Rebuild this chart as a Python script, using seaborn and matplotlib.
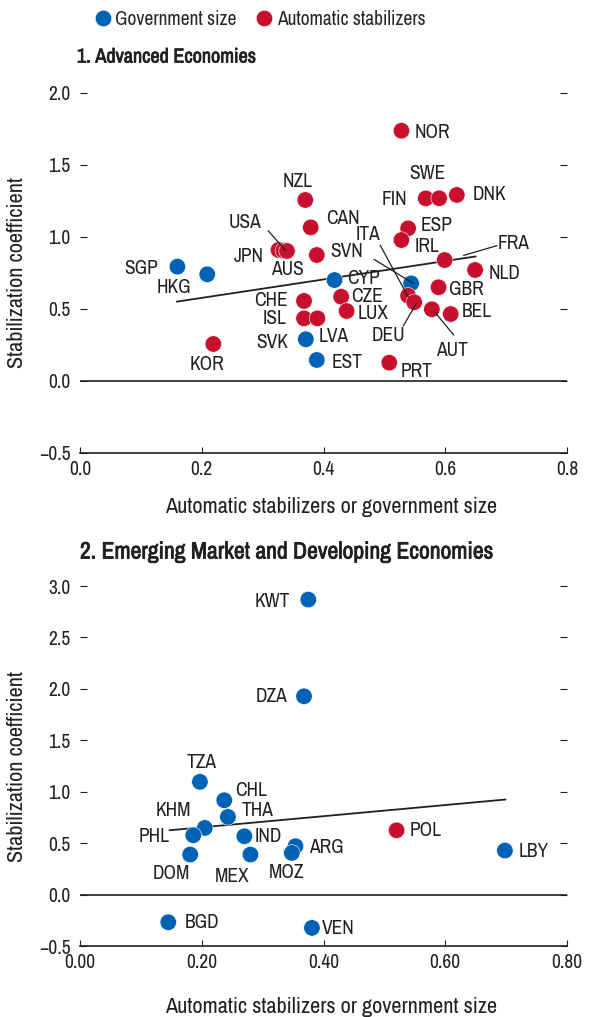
import pandas as pd
import seaborn as sns
import matplotlib.pyplot as plt
import matplotlib.patheffects as pe
from matplotlib import font_manager

#%% data read off the reference
# panel 1: advanced economies
adv_code = ['NOR', 'FIN', 'SWE', 'DNK', 'NZL', 'CAN', 'ESP', 'IRL', 'JPN', 'USA', 'AUS',
            'SVN', 'SGP', 'HKG', 'CYP', 'FRA', 'NLD', 'ITA2', 'GBR', 'ITA', 'DEU', 'CHE',
            'CZE', 'ISL', 'ISL2', 'LUX', 'AUT', 'BEL', 'SVK', 'EST', 'KOR', 'PRT']
adv_x = [0.528, 0.568, 0.590, 0.619, 0.370, 0.379, 0.539, 0.528, 0.326, 0.334, 0.340,
         0.389, 0.160, 0.209, 0.418, 0.599, 0.649, 0.544, 0.589, 0.539, 0.549, 0.368,
         0.429, 0.368, 0.390, 0.438, 0.578, 0.609, 0.371, 0.389, 0.219, 0.508]
adv_y = [1.738, 1.268, 1.269, 1.292, 1.257, 1.067, 1.060, 0.979, 0.910, 0.906, 0.903,
         0.875, 0.794, 0.741, 0.701, 0.840, 0.771, 0.678, 0.651, 0.592, 0.547, 0.556,
         0.585, 0.435, 0.435, 0.486, 0.498, 0.465, 0.290, 0.146, 0.257, 0.127]
adv_grp = ['A', 'A', 'A', 'A', 'A', 'A', 'A', 'A', 'A', 'A', 'A',
           'A', 'G', 'G', 'G', 'A', 'A', 'G', 'A', 'A', 'A', 'A',
           'A', 'A', 'A', 'A', 'A', 'A', 'G', 'G', 'A', 'A']
adv_fit_x = [0.159, 0.650]
adv_fit_y = [0.551, 0.865]

# panel 2: emerging market and developing economies
em_code = ['KWT', 'DZA', 'TZA', 'CHL', 'THA', 'KHM', 'PHL', 'DOM', 'IND', 'MEX',
           'ARG', 'MOZ', 'BGD', 'VEN', 'POL', 'LBY']
em_x = [0.375, 0.368, 0.197, 0.237, 0.243, 0.205, 0.186, 0.181, 0.270, 0.280,
        0.354, 0.348, 0.145, 0.381, 0.520, 0.698]
em_y = [2.868, 1.928, 1.096, 0.917, 0.755, 0.648, 0.577, 0.389, 0.567, 0.389,
        0.470, 0.405, -0.269, -0.324, 0.625, 0.428]
em_grp = ['G', 'G', 'G', 'G', 'G', 'G', 'G', 'G', 'G', 'G',
          'G', 'G', 'G', 'G', 'A', 'G']
em_fit_x = [0.147, 0.699]
em_fit_y = [0.625, 0.924]

grp_names = {'G': 'Government size', 'A': 'Automatic stabilizers'}

#%% label placement (data coords) and leader lines
adv_lab = {'NOR': (0.579, 1.727), 'SWE': (0.570, 1.442), 'FIN': (0.516, 1.262),
           'DNK': (0.673, 1.292), 'NZL': (0.358, 1.384), 'CAN': (0.4325, 1.130),
           'ESP': (0.585, 1.083), 'IRL': (0.5695, 0.9375), 'USA': (0.271, 1.099),
           'JPN': (0.2765, 0.863), 'AUS': (0.341, 0.771), 'SVN': (0.438, 0.898),
           'ITA': (0.4736, 1.014), 'FRA': (0.712, 0.956), 'SGP': (0.100, 0.783),
           'HKG': (0.155, 0.651), 'CYP': (0.465, 0.713), 'NLD': (0.698, 0.748),
           'GBR': (0.635, 0.637), 'CHE': (0.3138, 0.5625), 'CZE': (0.471, 0.590),
           'ISL': (0.319, 0.431), 'LUX': (0.481, 0.472), 'DEU': (0.506, 0.319),
           'BEL': (0.652, 0.481), 'AUT': (0.611, 0.215), 'SVK': (0.316, 0.266),
           'LVA': (0.416, 0.3125), 'EST': (0.438, 0.127), 'KOR': (0.209, 0.118),
           'PRT': (0.553, 0.0646)}
adv_leaders = [((0.309, 1.044), (0.338, 0.905)),
               ((0.493, 0.944), (0.539, 0.585)),
               ((0.483, 0.845), (0.5475, 0.678)),
               ((0.531, 0.382), (0.552, 0.535)),
               ((0.614, 0.319), (0.583, 0.477)),
               ((0.685, 0.940), (0.630, 0.872))]
em_lab = {'TZA': (0.200, 1.280), 'CHL': (0.2804, 1.014), 'THA': (0.291, 0.820),
          'KHM': (0.154, 0.820), 'PHL': (0.1216, 0.561), 'DOM': (0.1506, 0.204),
          'IND': (0.309, 0.561), 'MEX': (0.249, 0.178), 'ARG': (0.405, 0.454),
          'MOZ': (0.3395, 0.211), 'BGD': (0.200, -0.269), 'VEN': (0.424, -0.333),
          'POL': (0.567, 0.625), 'LBY': (0.745, 0.421), 'KWT': (0.316, 2.846),
          'DZA': (0.314, 1.928)}

#%% style: look for a narrow sans, otherwise squeeze DejaVu
sns.set_style('white')
names = sorted({f.name for f in font_manager.fontManager.ttflist})
narrow = [n for n in names if 'Narrow' in n or 'Condensed' in n]
if narrow:
    plt.rcParams['font.family'] = [narrow[0], 'DejaVu Sans']
    k = 1.0
else:
    plt.rcParams['font.family'] = ['DejaVu Sans']
    plt.rcParams['font.stretch'] = 'condensed'
    k = 0.85
plt.rcParams['axes.unicode_minus'] = True
fs_pt = 14 * k      # country labels
fs_tick = 14 * k
fs_ax = 16 * k
fs_leg = 14 * k
pal = {'Government size': '#0062B4', 'Automatic stabilizers': '#C8102E'}
order = ['Government size', 'Automatic stabilizers']
ink = '#231f20'
fake_bold = [pe.withStroke(linewidth=0.55, foreground=ink)]

df1 = pd.DataFrame({'code': adv_code, 'x': adv_x, 'y': adv_y,
                    'group': [grp_names[g] for g in adv_grp]})
df2 = pd.DataFrame({'code': em_code, 'x': em_x, 'y': em_y,
                    'group': [grp_names[g] for g in em_grp]})

fig = plt.figure(figsize=(5.92, 10.17), dpi=100)
ax1 = fig.add_axes([80/592, 1-453/1017, 487/592, 360/1017])
ax2 = fig.add_axes([80/592, 1-946/1017, 487/592, 360/1017])


def style_axis(ax, ylim, yticks, xfmt):
    ax.set_xlim(0, 0.8)
    ax.set_ylim(*ylim)
    ax.set_yticks(yticks)
    ax.set_xticks([0, 0.2, 0.4, 0.6, 0.8])
    ax.set_xticklabels([xfmt.format(v) for v in [0, 0.2, 0.4, 0.6, 0.8]])
    ax.set_yticklabels([f'{v:.1f}'.replace('-', '\u2212') for v in yticks])
    for s in ['left', 'right', 'top']:
        ax.spines[s].set_visible(False)
    ax.spines['bottom'].set_color(ink)
    ax.spines['bottom'].set_linewidth(1.2)
    ax.axhline(0, color=ink, lw=1.2, zorder=1)
    ax.tick_params(axis='y', direction='in', length=5, width=0.8, left=True, right=True,
                   labelsize=fs_tick, pad=7, colors=ink)
    ax.tick_params(axis='x', direction='in', length=4, width=0.8, bottom=True,
                   labelsize=fs_tick, pad=5, colors=ink)
    ax.set_xlabel('Automatic stabilizers or government size', fontsize=fs_ax, color=ink)
    ax.set_ylabel('Stabilization coefficient', fontsize=fs_ax, color=ink)
    ax.yaxis.set_label_coords(-0.109, 0.5)


# Panel 1
sns.scatterplot(data=df1, x='x', y='y', hue='group', hue_order=order, palette=pal,
                s=140, edgecolor='white', linewidth=0.4, ax=ax1, zorder=3)
ax1.plot(adv_fit_x, adv_fit_y, color=ink, lw=1.3, zorder=2)
for (x0, y0), (x1, y1) in adv_leaders:
    ax1.plot([x0, x1], [y0, y1], color=ink, lw=0.9, zorder=4)
for c, (tx, ty) in adv_lab.items():
    ax1.text(tx, ty, c, ha='center', va='center', fontsize=fs_pt, color=ink, zorder=5)
style_axis(ax1, (-0.5, 2.0), [-0.5, 0, 0.5, 1.0, 1.5, 2.0], '{:.1f}')
ax1.xaxis.set_label_coords(0.515, -0.122)
sns.move_legend(ax1, 'center', bbox_to_anchor=(0.358, 1.205), ncol=2, frameon=False,
                title=None, fontsize=fs_leg, handletextpad=-0.35, columnspacing=0.4,
                markerscale=1.0)

# Panel 2
sns.scatterplot(data=df2, x='x', y='y', hue='group', hue_order=order, palette=pal,
                s=140, edgecolor='white', linewidth=0.4, ax=ax2, zorder=3, legend=False)
ax2.plot(em_fit_x, em_fit_y, color=ink, lw=1.3, zorder=2)
for c, (tx, ty) in em_lab.items():
    ax2.text(tx, ty, c, ha='center', va='center', fontsize=fs_pt, color=ink, zorder=5)
style_axis(ax2, (-0.5, 3.0), [-0.5, 0, 0.5, 1.0, 1.5, 2.0, 2.5, 3.0], '{:.2f}')
ax2.xaxis.set_label_coords(0.515, -0.142)

fig.text(77/592, 1-57/1017, '1. Advanced Economies', fontsize=14.5 * k,
         ha='left', va='center', color=ink, path_effects=fake_bold)
fig.text(80/592, 1-552/1017, '2. Emerging Market and Developing Economies',
         fontsize=17 * k, ha='left', va='center', color=ink, path_effects=fake_bold)

plt.savefig('out.png', dpi=100)
